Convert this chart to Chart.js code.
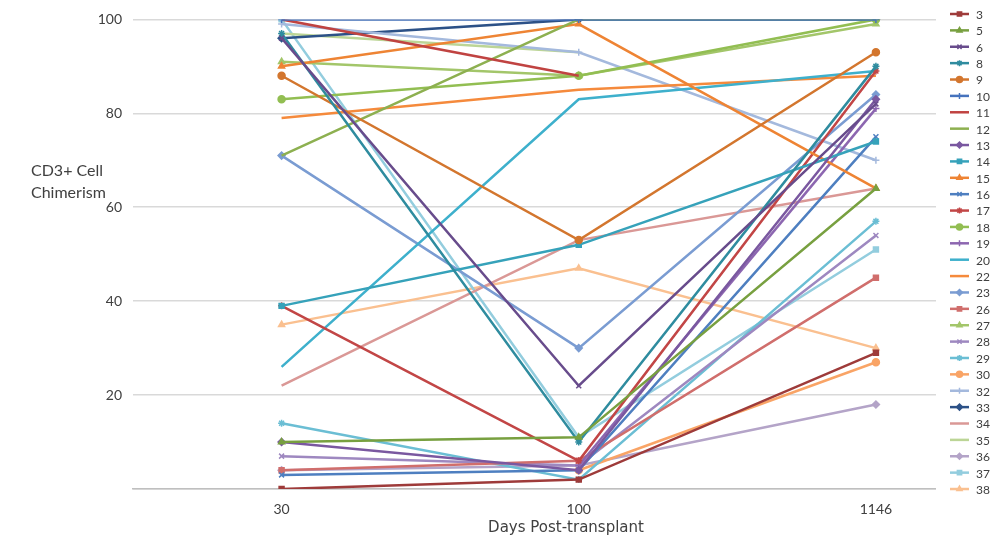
<!DOCTYPE html>
<html><head><meta charset="utf-8">
<script src="https://cdn.jsdelivr.net/npm/chart.js@4.4.1/dist/chart.umd.min.js"></script>
<style>
html,body{margin:0;padding:0;overflow:hidden;background:#fff;width:997px;height:549px}
#wrap{position:absolute;left:0;top:0;width:1030px;height:549px}
.t{position:absolute;font-family:Lato,'Open Sans',sans-serif;color:#404040;font-size:16px;white-space:nowrap}
</style></head><body>
<div id="wrap"><canvas id="c" width="1030" height="549"></canvas></div>
<div class="t" style="left:31px;top:159px;line-height:22px">CD3+ Cell<br>Chimerism</div>
<div class="t" style="left:446px;top:518px;width:240px;text-align:center;font-family:'DejaVu Sans',sans-serif;font-size:15px">Days Post-transplant</div>
<script>
// ---- data ----
const categories = ['30', '100', '1146'];
const seriesNames = ['3','5','6','8','9','10','11','12','13','14','15','16','17','18','19','20','22','23','26','27','28','29','30','32','33','34','35','36','37','38'];
const p3  = [0, 2, 29];
const p5  = [10, 11, 64];
const p6  = [96, 22, 82];
const p8  = [97, 10, 90];
const p9  = [88, 53, 93];
const p10 = [100, 100, 100];
const p11 = [100, 88, null];
const p12 = [71, 100, 100];
const p13 = [10, 4, 83];
const p14 = [39, 52, 74];
const p15 = [90, 99, 64];
const p16 = [3, 4, 75];
const p17 = [39, 6, 89];
const p18 = [83, 88, 100];
const p19 = [null, 5, 81];
const p20 = [26, 83, 89];
const p22 = [79, 85, 88];
const p23 = [71, 30, 84];
const p26 = [4, 6, 45];
const p27 = [91, 88, 99];
const p28 = [7, 5, 54];
const p29 = [14, 2, 57];
const p30 = [null, 4, 27];
const p32 = [99, 93, 70];
const p33 = [96, 100, 100];
const p34 = [22, 53, 64];
const p35 = [97, 93, null];
const p36 = [4, 5, 18];
const p37 = [100, 11, 51];
const p38 = [35, 47, 30];
const seriesValues = [p3,p5,p6,p8,p9,p10,p11,p12,p13,p14,p15,p16,p17,p18,p19,p20,p22,p23,p26,p27,p28,p29,p30,p32,p33,p34,p35,p36,p37,p38];

// ---- styles ----
const colors = ['#9E3B3A','#78A040','#684C8C','#2F8C9F','#D3762E','#4673BD','#C04341','#8DB050','#7A58A0','#36A2BA','#EE8434','#4E7FC0','#C24646','#92BE52','#8C66B0','#3EB0CC','#F58A3C','#7A9CD2','#D06E6C','#A3C66A','#9E88C0','#6BBED4','#F9A466','#A4B9DD','#2C5187','#DA9896','#BCD596','#B4A4C8','#93CDDE','#FAC090'];
const markers = ['rect','triangle','crossRot','star','circle','cross',false,false,'rectRot','rect','triangle','crossRot','star','circle','cross',false,false,'rectRot','rect','triangle','crossRot','star','circle','cross','rectRot',false,false,'rectRot','rect','triangle'];

const datasets = seriesNames.map((n, i) => ({
  label: n,
  data: seriesValues[i],
  borderColor: colors[i],
  backgroundColor: colors[i],
  borderWidth: 2.5,
  pointStyle: markers[i] || 'circle',
  pointRadius: markers[i] ? 3.5 : 0,
  pointBorderWidth: 1.5,
  pointBorderColor: colors[i],
  pointBackgroundColor: colors[i],
  tension: 0,
  spanGaps: false
}));

const legendPlugin = {
  id: 'xlLegend',
  afterDraw(chart) {
    const ctx = chart.ctx;
    ctx.save();
    ctx.fillStyle = '#fff';
    ctx.fillRect(936, 0, chart.width - 936, chart.height);
    ctx.font = '12px Lato, "Open Sans", sans-serif';
    ctx.textBaseline = 'middle';
    ctx.textAlign = 'left';
    chart.data.datasets.forEach((ds, i) => {
      const y = 14 + i * 16.38;
      ctx.strokeStyle = ds.borderColor;
      ctx.lineWidth = 2.5;
      ctx.beginPath();
      ctx.moveTo(950, y); ctx.lineTo(969, y); ctx.stroke();
      if (markers[i]) {
        ctx.fillStyle = ds.borderColor;
        ctx.lineWidth = 1.5;
        Chart.helpers.drawPoint(ctx, {pointStyle: markers[i], radius: 3, rotation: 0, borderWidth: 1.5}, 959.5, y);
      }
      ctx.fillStyle = '#404040';
      ctx.fillText(ds.label, 976, y + 1);
    });
    ctx.restore();
  }
};

new Chart(document.getElementById('c'), {
  type: 'line',
  data: { labels: categories, datasets },
  plugins: [legendPlugin],
  options: {
    responsive: false,
    animation: false,
    layout: { padding: { top: 19, left: 0, right: 3, bottom: 0 } },
    plugins: { legend: { display: false }, tooltip: { enabled: false } },
    scales: {
      x: {
        type: 'category',
        offset: true,
        grid: { display: false, drawTicks: false },
        border: { display: true, color: '#bfbfbf', width: 1.5 },
        ticks: { font: { family: 'Lato', size: 14 }, color: '#404040', padding: 12 },
        afterFit(s) { s.height = 60; }
      },
      y: {
        min: 0, max: 100,
        grid: { color: '#d9d9d9', lineWidth: 1.5, drawTicks: false },
        border: { display: false },
        ticks: { stepSize: 20, padding: 11, font: { family: 'Lato', size: 14 }, color: '#404040',
          callback: v => v === 0 ? '' : v },
        afterFit(s) { s.width = 133; }
      }
    }
  }
});
</script>
</body></html>
